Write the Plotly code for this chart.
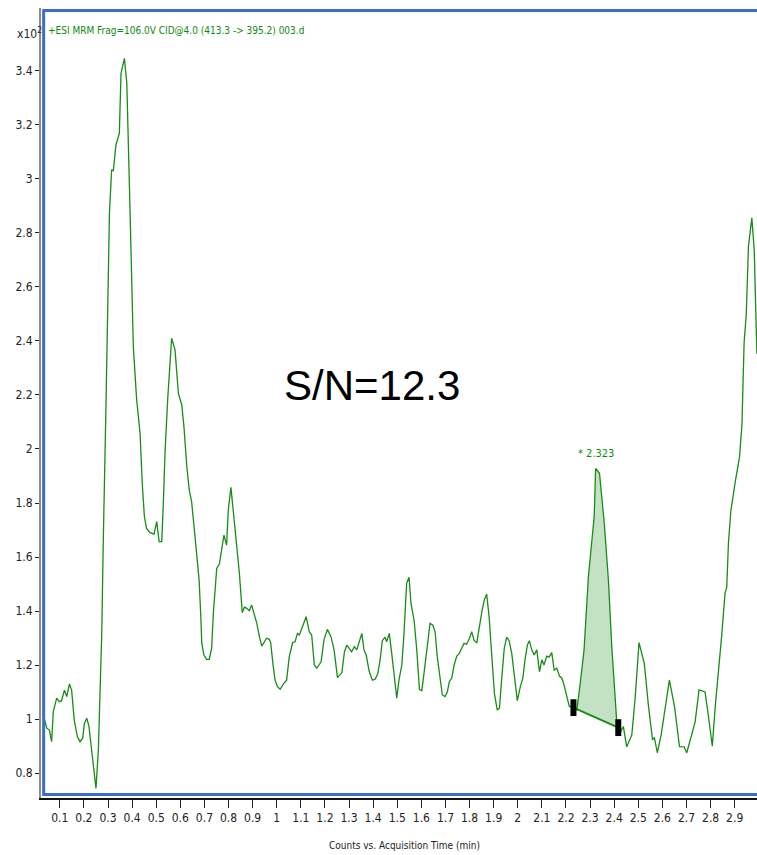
import plotly.graph_objects as go

# MRM chromatogram: acquisition time (min) vs counts (x10^2)
time_min = [
    0.030, 0.046, 0.057, 0.066, 0.073, 0.087, 0.098, 0.107, 0.119, 0.129,
    0.140, 0.149, 0.160, 0.173, 0.184, 0.195, 0.202, 0.212, 0.221, 0.232,
    0.242, 0.250, 0.260, 0.267, 0.274, 0.281, 0.288, 0.292, 0.306, 0.315,
    0.322, 0.333, 0.347, 0.354, 0.368, 0.378, 0.391, 0.405, 0.419, 0.433,
    0.442, 0.451, 0.460, 0.474, 0.491, 0.502, 0.512, 0.523, 0.530, 0.537,
    0.548, 0.564, 0.578, 0.592, 0.606, 0.615, 0.627, 0.637, 0.647, 0.657,
    0.668, 0.678, 0.685, 0.689, 0.698, 0.709, 0.720, 0.730, 0.737, 0.744,
    0.751, 0.762, 0.772, 0.781, 0.792, 0.799, 0.810, 0.823, 0.834, 0.845,
    0.857, 0.866, 0.876, 0.886, 0.896, 0.906, 0.917, 0.928, 0.938, 0.949,
    0.958, 0.969, 0.975, 0.984, 0.993, 1.003, 1.014, 1.028, 1.041, 1.052,
    1.066, 1.076, 1.086, 1.094, 1.108, 1.122, 1.135, 1.145, 1.156, 1.166,
    1.184, 1.196, 1.210, 1.225, 1.238, 1.252, 1.270, 1.281, 1.291, 1.311,
    1.322, 1.332, 1.353, 1.362, 1.371, 1.384, 1.397, 1.408, 1.419, 1.429,
    1.438, 1.449, 1.456, 1.467, 1.477, 1.487, 1.498, 1.507, 1.519, 1.528,
    1.539, 1.549, 1.557, 1.570, 1.581, 1.592, 1.602, 1.611, 1.622, 1.636,
    1.647, 1.657, 1.666, 1.678, 1.687, 1.698, 1.708, 1.716, 1.726, 1.736,
    1.747, 1.756, 1.768, 1.777, 1.788, 1.798, 1.809, 1.819, 1.830, 1.841,
    1.851, 1.861, 1.871, 1.881, 1.892, 1.903, 1.915, 1.924, 1.934, 1.944,
    1.954, 1.964, 1.975, 1.986, 1.998, 2.010, 2.021, 2.030, 2.040, 2.048,
    2.058, 2.068, 2.079, 2.090, 2.100, 2.109, 2.120, 2.130, 2.141, 2.151,
    2.162, 2.173, 2.183, 2.192, 2.203, 2.214, 2.224, 2.231, 2.245, 2.259,
    2.275, 2.293, 2.307, 2.317, 2.323, 2.339, 2.359, 2.376, 2.390, 2.411,
    2.417, 2.427, 2.438, 2.452, 2.473, 2.487, 2.503, 2.525, 2.542, 2.559,
    2.567, 2.579, 2.595, 2.612, 2.629, 2.650, 2.671, 2.690, 2.701, 2.717,
    2.736, 2.752, 2.770, 2.777, 2.791, 2.807, 2.819, 2.832, 2.846, 2.860,
    2.867, 2.874, 2.884, 2.902, 2.920, 2.930, 2.939, 2.948, 2.957, 2.971,
    2.981, 2.992,
]
counts_e2 = [
    1.021, 0.966, 0.959, 0.916, 1.027, 1.077, 1.064, 1.067, 1.107, 1.083,
    1.130, 1.107, 0.996, 0.934, 0.916, 0.929, 0.984, 1.003, 0.972, 0.885,
    0.811, 0.743, 0.885, 1.132, 1.317, 1.688, 1.935, 2.181, 2.873, 3.033,
    3.031, 3.126, 3.169, 3.391, 3.447, 3.354, 2.897, 2.379, 2.181, 2.058,
    1.873, 1.749, 1.706, 1.690, 1.685, 1.731, 1.657, 1.657, 1.811, 1.996,
    2.190, 2.410, 2.367, 2.206, 2.163, 2.083, 1.935, 1.848, 1.805, 1.712,
    1.601, 1.515, 1.379, 1.280, 1.237, 1.221, 1.221, 1.262, 1.391, 1.490,
    1.558, 1.574, 1.626, 1.681, 1.644, 1.774, 1.858, 1.749, 1.651, 1.540,
    1.394, 1.414, 1.410, 1.401, 1.422, 1.391, 1.355, 1.305, 1.270, 1.286,
    1.299, 1.295, 1.283, 1.206, 1.144, 1.120, 1.110, 1.130, 1.144, 1.231,
    1.283, 1.286, 1.317, 1.311, 1.348, 1.379, 1.323, 1.311, 1.200, 1.188,
    1.212, 1.293, 1.332, 1.305, 1.256, 1.153, 1.171, 1.249, 1.274, 1.249,
    1.268, 1.256, 1.317, 1.256, 1.237, 1.175, 1.144, 1.147, 1.167, 1.219,
    1.290, 1.303, 1.286, 1.317, 1.243, 1.157, 1.077, 1.144, 1.200, 1.317,
    1.503, 1.525, 1.428, 1.364, 1.256, 1.110, 1.105, 1.169, 1.256, 1.354,
    1.348, 1.323, 1.231, 1.157, 1.089, 1.083, 1.101, 1.138, 1.151, 1.200,
    1.233, 1.241, 1.266, 1.280, 1.277, 1.295, 1.323, 1.290, 1.283, 1.348,
    1.397, 1.441, 1.463, 1.379, 1.243, 1.095, 1.033, 1.040, 1.157, 1.262,
    1.303, 1.290, 1.243, 1.151, 1.068, 1.117, 1.151, 1.219, 1.274, 1.290,
    1.256, 1.237, 1.256, 1.175, 1.219, 1.200, 1.233, 1.229, 1.246, 1.181,
    1.188, 1.159, 1.151, 1.126, 1.083, 1.046, 1.046, 1.042, 1.033, 1.132,
    1.256, 1.527, 1.675, 1.749, 1.928, 1.910, 1.725, 1.515, 1.268, 0.984,
    0.968, 0.953, 0.972, 0.897, 0.940, 1.078, 1.283, 1.205, 1.050, 0.925,
    0.930, 0.875, 0.942, 1.040, 1.144, 1.048, 0.898, 0.897, 0.875, 0.927,
    0.990, 1.108, 1.103, 1.100, 1.011, 0.899, 1.044, 1.163, 1.309, 1.467,
    1.487, 1.652, 1.771, 1.877, 1.970, 2.089, 2.393, 2.499, 2.750, 2.856,
    2.737, 2.353,
]

# integrated peak: baseline start / end and apex
peak_start = (2.231, 1.042)
peak_end = (2.417, 0.968)
peak_apex_time = 2.323
peak_apex_counts = 1.928
sn_ratio = 12.3

header_text = "+ESI MRM Frag=106.0V CID@4.0 (413.3 -> 395.2) 003.d"
x_title = "Counts vs. Acquisition Time (min)"

x_tick_vals = [0.1, 0.2, 0.3, 0.4, 0.5, 0.6, 0.7, 0.8, 0.9, 1.0,
               1.1, 1.2, 1.3, 1.4, 1.5, 1.6, 1.7, 1.8, 1.9, 2.0,
               2.1, 2.2, 2.3, 2.4, 2.5, 2.6, 2.7, 2.8, 2.9]
x_tick_text = ["0.1", "0.2", "0.3", "0.4", "0.5", "0.6", "0.7", "0.8", "0.9", "1",
               "1.1", "1.2", "1.3", "1.4", "1.5", "1.6", "1.7", "1.8", "1.9", "2",
               "2.1", "2.2", "2.3", "2.4", "2.5", "2.6", "2.7", "2.8", "2.9"]
y_tick_vals = [0.8, 1.0, 1.2, 1.4, 1.6, 1.8, 2.0, 2.2, 2.4, 2.6, 2.8, 3.0, 3.2, 3.4]
y_tick_text = ["0.8", "1", "1.2", "1.4", "1.6", "1.8", "2", "2.2", "2.4",
               "2.6", "2.8", "3", "3.2", "3.4"]

TRACE_GREEN = "#178c17"
TEXT_GREEN = "#0f8a0f"
FILL_GREEN = "#c3e2c3"
FRAME_BLUE = "#3b6fc6"
NARROW = "DejaVu Sans Condensed, Liberation Sans Narrow, sans-serif"

# polygon of the integrated area: curve between the baseline ends, closed by the baseline
area_t, area_v = [], []
for t, v in zip(time_min, counts_e2):
    if peak_start[0] <= t <= peak_end[0]:
        area_t.append(t)
        area_v.append(v)
area_t += [peak_end[0], peak_start[0]]
area_v += [peak_end[1], peak_start[1]]

fig = go.Figure()

fig.add_trace(go.Scatter(
    x=area_t, y=area_v, mode="lines", fill="toself",
    fillcolor=FILL_GREEN, line=dict(width=0, color=FILL_GREEN), hoverinfo="skip",
))
fig.add_trace(go.Scatter(
    x=[peak_start[0], peak_end[0]], y=[peak_start[1], peak_end[1]],
    mode="lines", line=dict(color=TRACE_GREEN, width=2),
))
fig.add_trace(go.Scatter(
    x=time_min, y=counts_e2, mode="lines",
    line=dict(color=TRACE_GREEN, width=1.3),
))
# baseline end markers (small upright black bars)
fig.add_trace(go.Scatter(
    x=[peak_start[0], peak_end[0]], y=[peak_start[1], peak_end[1]],
    mode="markers",
    marker=dict(symbol="line-ns", size=12, color="black",
                line=dict(color="black", width=6)),
))

# blue pane frame (top, left, bottom) on a hidden 0-1 overlay axis pair
frame_x = [1.0, 0.0037, 0.0037, 1.0]
frame_y = [0.9968, 0.9968, 0.0045, 0.0045]
fig.add_trace(go.Scatter(
    x=frame_x, y=frame_y, xaxis="x2", yaxis="y2", mode="lines",
    line=dict(color=FRAME_BLUE, width=3), hoverinfo="skip",
))

annotations = [
    dict(text=header_text, xref="paper", yref="paper", x=0.007, y=0.971,
         xanchor="left", yanchor="middle", showarrow=False,
         font=dict(family=NARROW, size=10, color=TEXT_GREEN)),
    dict(text="x10<sup>2</sup>", xref="paper", yref="paper", x=-0.037, y=0.968,
         xanchor="left", yanchor="middle", showarrow=False,
         font=dict(family=NARROW, size=12, color="#222")),
    dict(text=f"S/N={sn_ratio}", xref="paper", yref="paper", x=0.462, y=0.522,
         xanchor="center", yanchor="middle", showarrow=False,
         font=dict(family="Liberation Sans, Arial, sans-serif", size=42, color="black")),
    dict(text=f"* {peak_apex_time:.3f}", xref="x", yref="y",
         x=peak_apex_time, y=peak_apex_counts, yshift=6,
         xanchor="center", yanchor="bottom", showarrow=False,
         font=dict(family=NARROW, size=11, color=TEXT_GREEN)),
    dict(text=x_title, xref="paper", yref="paper", x=0.508, y=-0.0595,
         xanchor="center", yanchor="middle", showarrow=False,
         font=dict(family=NARROW, size=10, color="#222")),
]

fig.update_layout(
    width=757, height=855,
    margin=dict(l=41, r=0, t=8, b=57),
    paper_bgcolor="white", plot_bgcolor="white",
    showlegend=False,
    annotations=annotations,
    xaxis=dict(
        range=[0.022, 2.9925], showgrid=False, zeroline=False,
        tickmode="array", tickvals=x_tick_vals, ticktext=x_tick_text,
        ticks="outside", ticklen=8, tickwidth=1, tickcolor="#222",
        showline=True, linecolor="#111", linewidth=1.5,
        tickfont=dict(family=NARROW, size=12, color="#222"),
    ),
    yaxis=dict(
        range=[0.7074, 3.6333], showgrid=False, zeroline=False,
        tickmode="array", tickvals=y_tick_vals, ticktext=y_tick_text,
        ticks="outside", ticklen=4, tickwidth=1, tickcolor="#222",
        showline=True, linecolor="#8c8c8c", linewidth=2,
        tickfont=dict(family=NARROW, size=12, color="#222"),
    ),
    xaxis2=dict(overlaying="x", range=[0, 1], visible=False),
    yaxis2=dict(overlaying="y", range=[0, 1], visible=False),
)

fig.write_html("out.html")
